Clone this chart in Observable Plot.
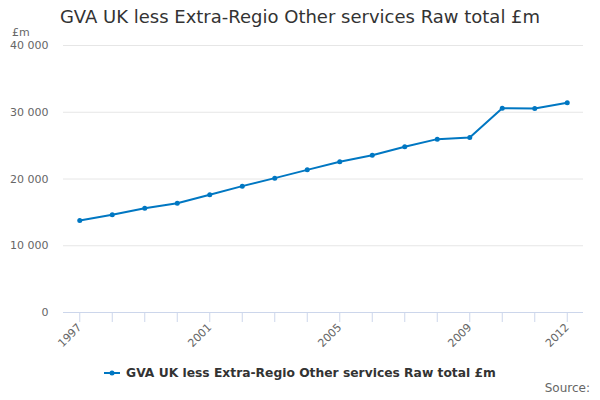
<!DOCTYPE html>
<html>
<head>
<meta charset="utf-8">
<script src="https://cdn.jsdelivr.net/npm/d3@7"></script>
<script src="https://cdn.jsdelivr.net/npm/@observablehq/plot@0.6"></script>
<style>
  html, body { margin: 0; padding: 0; background: #fff; }
  body { font-family: "DejaVu Sans", sans-serif; }
  #wrap { position: relative; width: 600px; height: 400px; overflow: hidden; }
  #chart { position: absolute; left: 0; top: 0; }
  .title { position: absolute; left: 0; width: 600px; top: 6px; text-align: center; font-size: 18px; color: #333; }
  .unit { position: absolute; left: 12px; top: 26px; font-size: 11px; color: #666; }
  .legend { position: absolute; left: 0; width: 600px; top: 366px; text-align: center; font-size: 12.3px; font-weight: bold; color: #333; white-space: nowrap; }
  .legend svg { vertical-align: middle; margin-right: 6px; position: relative; top: -1px; }
  .source { position: absolute; right: 10px; top: 381px; font-size: 12px; color: #666; }
</style>
</head>
<body>
<div id="wrap">
  <div id="chart"></div>
  <div class="title">GVA UK less Extra-Regio Other services Raw total £m</div>
  <div class="unit">£m</div>
  <div class="legend"><svg width="16" height="10"><line x1="0" y1="5" x2="16" y2="5" stroke="#0077c2" stroke-width="2"></line><circle cx="8" cy="5" r="2.5" fill="#0077c2"></circle></svg>GVA UK less Extra-Regio Other services Raw total £m</div>
  <div class="source">Source:</div>
</div>
<script>
const years = [1997, 1998, 1999, 2000, 2001, 2002, 2003, 2004, 2005, 2006, 2007, 2008, 2009, 2010, 2011, 2012];
const values = [13780, 14640, 15630, 16380, 17630, 18930, 20130, 21370, 22570, 23570, 24820, 25970, 26220, 30610, 30560, 31410];
const labeledYears = [1997, 2001, 2005, 2009, 2012];
const yTicks = [0, 10000, 20000, 30000, 40000];

const data = years.map((y, i) => ({year: y, value: values[i]}));
const color = "#0077c2";
const fmt = v => d3.format(",")(v).replace(/,/g, " ");

const plot = Plot.plot({
  width: 600,
  height: 400,
  marginLeft: 63,
  marginRight: 17,
  marginTop: 45,
  marginBottom: 88,
  style: {fontFamily: "DejaVu Sans, sans-serif", background: "transparent"},
  x: {type: "point", domain: years, padding: 0.5, round: false},
  y: {domain: [0, 40000]},
  marks: [
    Plot.gridY(yTicks.filter(d => d > 0), {stroke: "#e6e6e6", strokeOpacity: 1}),
    Plot.axisY(yTicks, {tickSize: 0, tickPadding: 15, tickFormat: fmt, fontSize: 11, fill: "#666", label: null}),
    Plot.ruleY([0], {stroke: "#ccd6eb"}),
    Plot.axisX(years, {tickSize: 10, stroke: "#ccd6eb", strokeOpacity: 1, tickRotate: -45,
      tickFormat: d => labeledYears.includes(d) ? String(d) : "", fontSize: 11, fill: "#666", label: null, tickPadding: 3}),
    Plot.line(data, {x: "year", y: "value", stroke: color, strokeWidth: 2}),
    Plot.dot(data, {x: "year", y: "value", r: 2.5, fill: color})
  ]
});
document.getElementById("chart").appendChild(plot);
</script>
</body>
</html>
